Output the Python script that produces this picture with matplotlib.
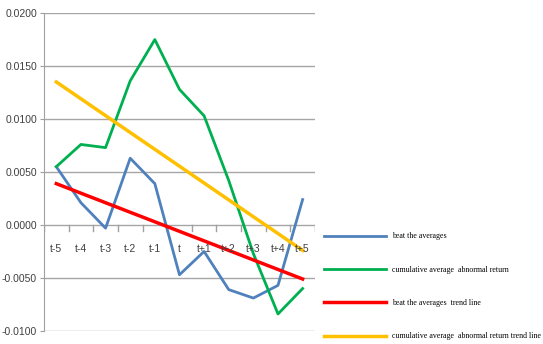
import matplotlib
matplotlib.use('Agg')
import matplotlib.pyplot as plt

# categories around the event day
periods = ['t-5', 't-4', 't-3', 't-2', 't-1', 't', 't+1', 't+2', 't+3', 't+4', 't+5']

# values
beat_avg = [0.0055, 0.0021, -0.0003, 0.0063, 0.0039, -0.0047,
            -0.0025, -0.0061, -0.0069, -0.0057, 0.0024]
cum_abn = [0.0055, 0.0076, 0.0073, 0.0136, 0.0175, 0.0128,
           0.0103, 0.0042, -0.0027, -0.0084, -0.0060]

# trend lines, start and end values (t-5, t+5)
beat_trend = [0.0039, -0.0051]
cum_trend = [0.0135, -0.0024]

yticks = [-0.01, -0.005, 0.0, 0.005, 0.01, 0.015, 0.02]

fig = plt.figure(figsize=(5.43, 3.44), dpi=100)
ax = fig.add_axes([0.081, 0.038, 0.499, 0.924])

x = list(range(len(periods)))
ends = [x[0], x[-1]]

ax.plot(x, beat_avg, color='#4F81BD', lw=2, label='beat the averages')
ax.plot(x, cum_abn, color='#00B050', lw=2, label='cumulative average  abnormal return')
ax.plot(ends, beat_trend, color='#FF0000', lw=2.5, label='beat the averages  trend line')
ax.plot(ends, cum_trend, color='#FFC000', lw=2.5,
        label='cumulative average  abnormal return trend line')

ax.set_xlim(-0.5, len(periods) - 0.5)
ax.set_ylim(-0.01, 0.02)
ax.set_yticks(yticks)
ax.set_yticklabels(['%.4f' % v for v in yticks], fontsize=7.5, color='#404040',
                   family='Liberation Sans')
ax.tick_params(axis='y', length=3, color='#A0A0A0', pad=2)
ax.grid(axis='y', color='#A6A6A6', lw=1)
ax.set_axisbelow(True)

for s in ['top', 'right', 'bottom']:
    ax.spines[s].set_visible(False)
ax.spines['left'].set_color('#A0A0A0')

# category axis sits on the zero line
ax.set_xticks([])
for i in range(len(periods) + 1):
    ax.plot([i - 0.5, i - 0.5], [0, -0.0006], color='#A0A0A0', lw=1, zorder=1)
for i, p in enumerate(periods):
    ax.text(i, -0.0023, p, ha='center', va='center', fontsize=7.5, color='#404040',
            family='Liberation Sans')

leg = ax.legend(loc='upper left', bbox_to_anchor=(1.02, 0.32), frameon=False,
                prop={'family': 'Liberation Serif', 'size': 5.7},
                handlelength=7.85, labelspacing=3.2, handletextpad=0.75,
                borderaxespad=0)

fig.savefig('out.png', dpi=100)
